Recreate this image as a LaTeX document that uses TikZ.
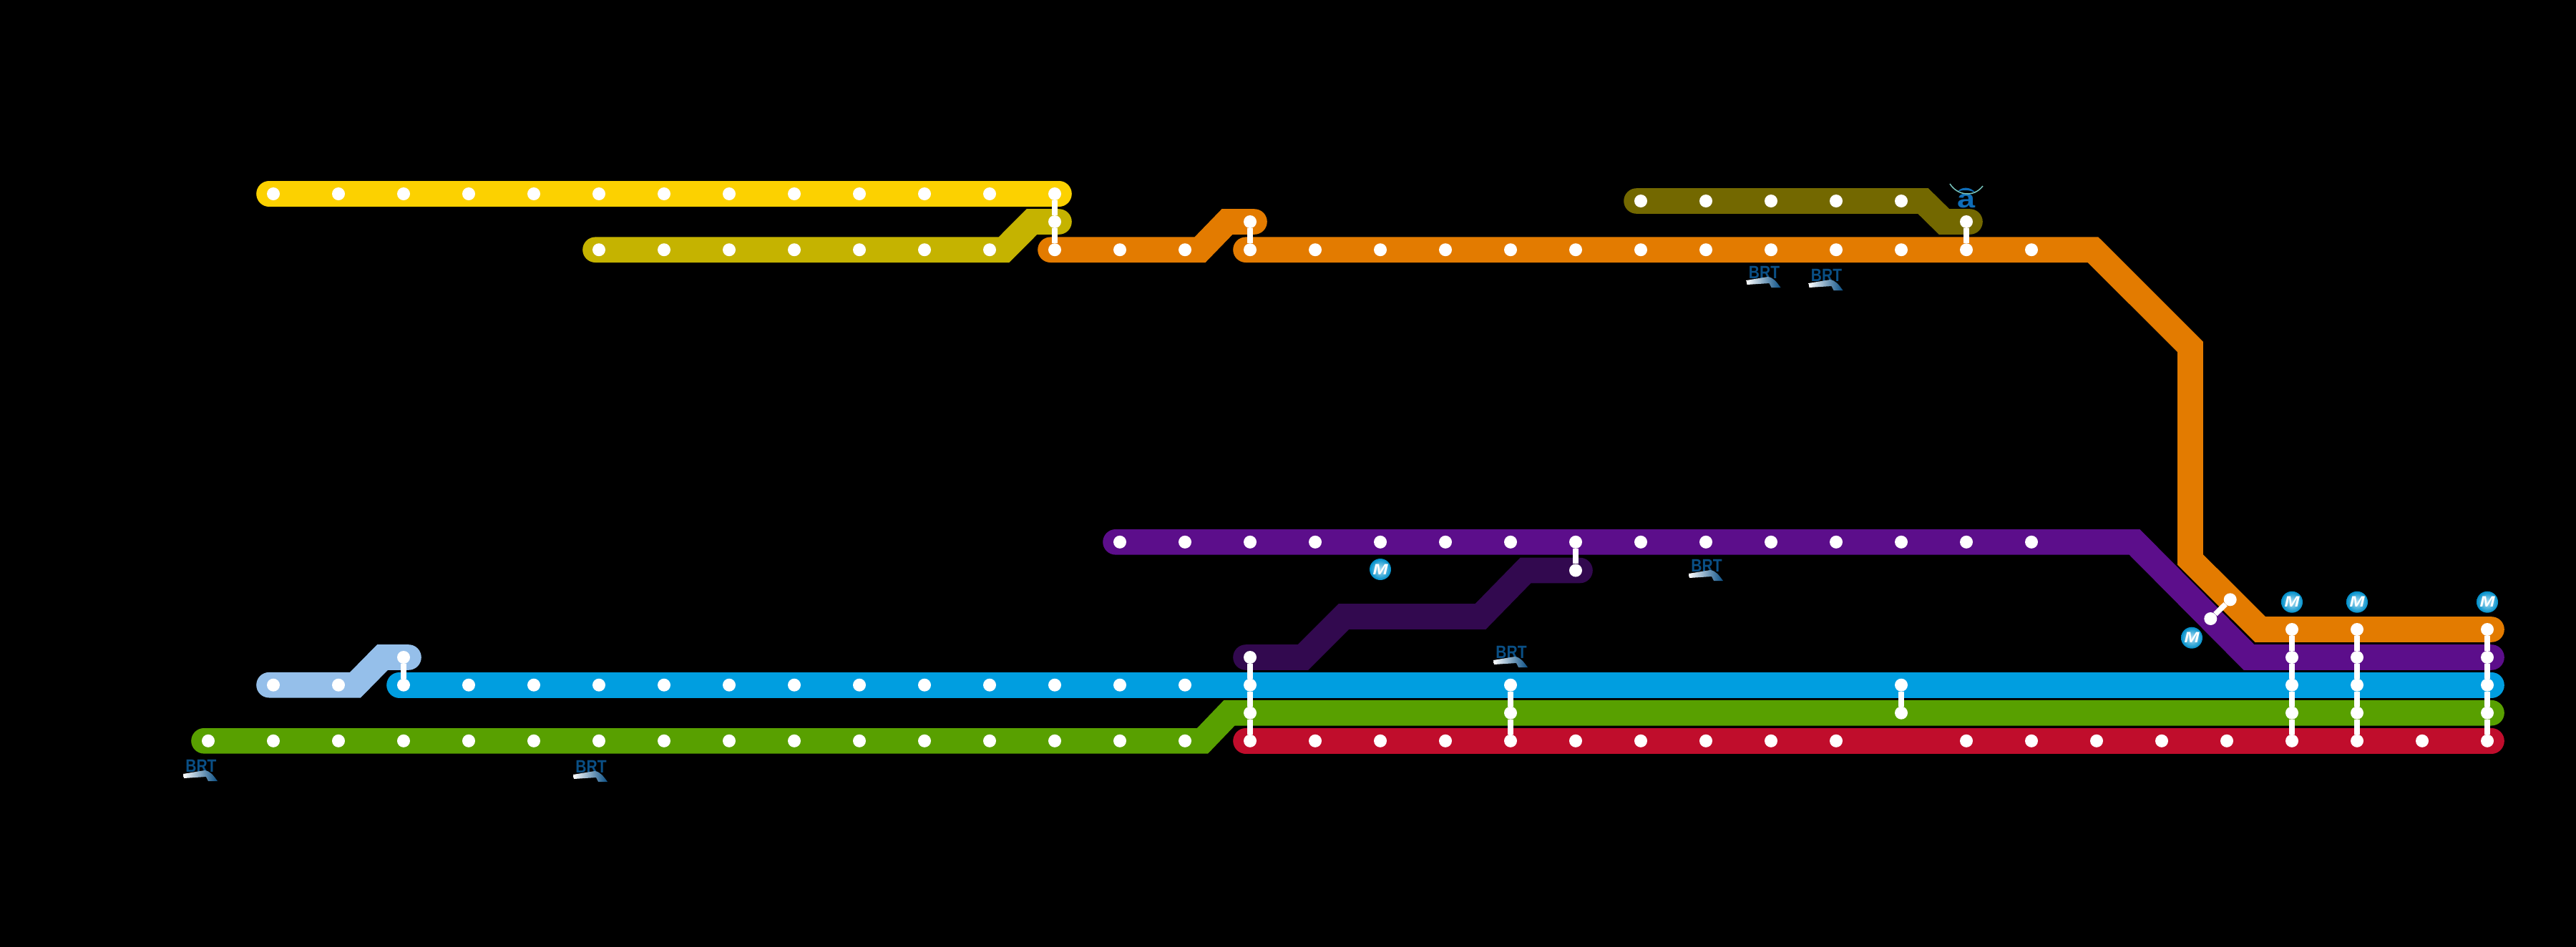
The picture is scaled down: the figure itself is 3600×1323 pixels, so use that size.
\documentclass[tikz,border=0pt]{standalone}
\usepackage{tikz}
\usepackage{fontspec}
\setsansfont{Liberation Sans}
\definecolor{lineyellow}{HTML}{FCD100}
\definecolor{lineolive}{HTML}{C5B300}
\definecolor{lineorange}{HTML}{E37B00}
\definecolor{linemoss}{HTML}{736800}
\definecolor{linepurple}{HTML}{5C0E8B}
\definecolor{lineplum}{HTML}{32094F}
\definecolor{lineblue}{HTML}{009EE0}
\definecolor{linesky}{HTML}{95BFEA}
\definecolor{linegreen}{HTML}{58A000}
\definecolor{linered}{HTML}{C00D2C}
\definecolor{brtblue}{HTML}{0A4F85}
\definecolor{signblue}{HTML}{0F6DB8}
\tikzset{%
    band/.style={%
        line width=35.6pt,
        line cap=round,
        line join=miter,
    },
    station/.style={%
        circle,
        fill=white,
        inner sep=0pt,
        minimum size=18pt,
    },
    link/.style={%
        draw=white,
        line width=7.5pt,
    },
    metro/.style={%
        circle,
        shading=radial,
        inner color=lineblue!30!white,
        outer color=lineblue!90!black,
        inner sep=0pt,
        minimum size=30pt,
        text=white,
        font=\fontsize{21}{21}\selectfont\sffamily\bfseries\itshape,
    },
    brtlabel/.style={%
        inner sep=0pt,
        text=brtblue,
        font=\fontsize{25}{25}\selectfont\sffamily\bfseries,
    },
    brtlogo/.pic={%
        \node [brtlabel] (-label) at (1,-6) {\scalebox{.84}[1]{BRT}};
        \shade [left color=white, middle color=lineblue, right color=brtblue]
            (-24,5) -- (6,0) .. controls (14,1) and (18,7) .. (24,15)
            -- (11,15) -- (8,9) -- (-23,11) -- cycle;
    },
}
\newcommand{\stationrow}[3]{%
    \foreach \k in {#3} \node [station] (#1_\k) at ({291+91*\k},#2) {};
}

\begin{document}
\begin{tikzpicture}[x=1pt, y=-1pt]
	\useasboundingbox (0,0) rectangle (3600,1323);
	\fill[black] (-3,-3) rectangle (3603,1326);

	% bends and ends of the lines
	\coordinate (yellow_start) at (376,271);
	\coordinate (yellow_end) at (1480,271);
	\coordinate (olive_start) at (832,349.2);
	\coordinate (olive_bend) at (1403,349.2);
	\coordinate (olive_top) at (1442,310);
	\coordinate (olive_end) at (1480,310);
	\coordinate (amber_start) at (1468,349.2);
	\coordinate (amber_bend) at (1677,349.2);
	\coordinate (amber_top) at (1715,310);
	\coordinate (amber_end) at (1753,310);
	\coordinate (orange_start) at (1741,349.2);
	\coordinate (orange_bend_a) at (2925,349.2);
	\coordinate (orange_bend_b) at (3061,485);
	\coordinate (orange_bend_c) at (3061,782.5);
	\coordinate (orange_bend_d) at (3158.7,880);
	\coordinate (orange_end) at (3482,880);
	\coordinate (moss_start) at (2287,281);
	\coordinate (moss_bend) at (2687.5,281);
	\coordinate (moss_low) at (2717,310);
	\coordinate (moss_end) at (2753,310);
	\coordinate (purple_start) at (1559,757.8);
	\coordinate (purple_bend_a) at (2983,757.8);
	\coordinate (purple_bend_b) at (3143,919);
	\coordinate (purple_end) at (3482,919);
	\coordinate (plum_start) at (1741,919);
	\coordinate (plum_bend_a) at (1821,919);
	\coordinate (plum_bend_b) at (1878,862);
	\coordinate (plum_bend_c) at (2069,862);
	\coordinate (plum_bend_d) at (2132,797.5);
	\coordinate (plum_end) at (2208,797.5);
	\coordinate (sky_start) at (376,957.7);
	\coordinate (sky_bend) at (496.5,957.7);
	\coordinate (sky_top) at (534.5,919);
	\coordinate (sky_end) at (571,919);
	\coordinate (blue_start) at (558,957.7);
	\coordinate (blue_end) at (3482,957.7);
	\coordinate (green_start) at (285,1035.8);
	\coordinate (green_bend) at (1680.5,1035.8);
	\coordinate (green_top) at (1718,996.7);
	\coordinate (green_end) at (3482,996.7);
	\coordinate (red_start) at (1741,1035.8);
	\coordinate (red_end) at (3482,1035.8);

	\draw[band, lineyellow] (yellow_start) -- (yellow_end);
	\draw[band, lineolive] (olive_start) -- (olive_bend) -- (olive_top) -- (olive_end);
	\draw[band, lineorange] (amber_start) -- (amber_bend) -- (amber_top) -- (amber_end);
	\draw[band, lineorange] (orange_start) -- (orange_bend_a) -- (orange_bend_b)
		-- (orange_bend_c) -- (orange_bend_d) -- (orange_end);
	\draw[band, linemoss] (moss_start) -- (moss_bend) -- (moss_low) -- (moss_end);
	\draw[band, linepurple] (purple_start) -- (purple_bend_a) -- (purple_bend_b) -- (purple_end);
	\draw[band, lineplum] (plum_start) -- (plum_bend_a) -- (plum_bend_b)
		-- (plum_bend_c) -- (plum_bend_d) -- (plum_end);
	\draw[band, linesky] (sky_start) -- (sky_bend) -- (sky_top) -- (sky_end);
	\draw[band, lineblue] (blue_start) -- (blue_end);
	\draw[band, linegreen] (green_start) -- (green_bend) -- (green_top) -- (green_end);
	\draw[band, linered] (red_start) -- (red_end);

	% stations
	\stationrow{yellow}{271}{1,...,13}
	\stationrow{olive}{349.2}{6,...,12}
	\stationrow{olive}{310}{13}
	\stationrow{amber}{349.2}{13,14,15}
	\stationrow{amber}{310}{16}
	\stationrow{orange}{349.2}{16,...,28}
	\stationrow{orange}{880}{32,33,35}
	\stationrow{moss}{281}{22,...,26}
	\stationrow{moss}{310}{27}
	\stationrow{purple}{757.8}{14,...,28}
	\stationrow{purple}{919}{32,33,35}
	\stationrow{plum}{919}{16}
	\stationrow{plum}{797.5}{21}
	\stationrow{sky}{957.7}{1,2}
	\stationrow{sky}{919}{3}
	\stationrow{blue}{957.7}{3,...,16}
	\stationrow{blue}{957.7}{20,26,32,33,35}
	\stationrow{green}{1035.8}{0,...,15}
	\stationrow{green}{996.7}{16,20,26,32,33,35}
	\stationrow{red}{1035.8}{16,...,25}
	\stationrow{red}{1035.8}{27,...,35}
	\node [station] at (3116.7,838.3) (change_orange) {};
	\node [station] at (3089.3,865) (change_purple) {};

	% transfers
	\draw[link] (yellow_13) -- (olive_13) -- (amber_13);
	\draw[link] (amber_16) -- (orange_16);
	\draw[link] (moss_27) -- (orange_27);
	\draw[link] (purple_21) -- (plum_21);
	\draw[link] (sky_3) -- (blue_3);
	\draw[link] (plum_16) -- (blue_16) -- (green_16) -- (red_16);
	\draw[link] (blue_20) -- (green_20) -- (red_20);
	\draw[link] (blue_26) -- (green_26);
	\draw[link] (change_orange) -- (change_purple);
	\foreach \k in {32,33,35}
		\draw[link] (orange_\k) -- (purple_\k) -- (blue_\k) -- (green_\k) -- (red_\k);

	% metro signs
	\node [metro] at (1929,796) (metro_a) {\scalebox{1.2}[1]{M}};
	\node [metro] at (3063,891.7) (metro_b) {\scalebox{1.2}[1]{M}};
	\node [metro] at (3203,841.7) (metro_c) {\scalebox{1.2}[1]{M}};
	\node [metro] at (3294,841.7) (metro_d) {\scalebox{1.2}[1]{M}};
	\node [metro] at (3476,841.7) (metro_e) {\scalebox{1.2}[1]{M}};

	% brt signs
	\pic (brt_a) at (2464.5,387) {brtlogo};
	\pic (brt_b) at (2551.5,391) {brtlogo};
	\pic (brt_c) at (2111,918) {brtlogo};
	\pic (brt_d) at (2384,797) {brtlogo};
	\pic (brt_e) at (280,1077) {brtlogo};
	\pic (brt_f) at (825,1078) {brtlogo};

	% tram sign
	\node [inner sep=0pt, text=signblue, font=\fontsize{36}{36}\selectfont\sffamily\bfseries]
		at (2748,281) (tram_sign) {\scalebox{1.25}[1]{a}};
	\fill[signblue] (2736,268) .. controls (2740,261) and (2754,260) .. (2761,270)
		.. controls (2754,265) and (2742,265) .. cycle;
	\draw[line width=1.5pt, linegreen!35!lineblue!60!white] (2725,257) .. controls (2735,273) and (2758,277) .. (2771,260);
\end{tikzpicture}
\end{document}
